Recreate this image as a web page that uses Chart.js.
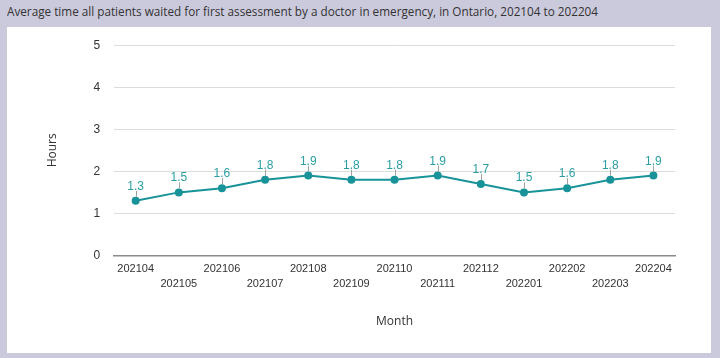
<!DOCTYPE html>
<html><head><meta charset="utf-8">
<script src="https://cdn.jsdelivr.net/npm/chart.js@4"></script>
<style>
html,body{margin:0;padding:0;}
body{width:720px;height:358px;background:#cbcadc;position:relative;overflow:hidden;font-family:"Open Sans",sans-serif;}
#title{position:absolute;left:7px;top:3px;font-size:12px;color:#333;white-space:nowrap;transform-origin:0 0;}
#panel{position:absolute;left:7px;top:27px;width:704px;height:326px;background:#fff;}
canvas{display:block;position:absolute;left:0;top:-3px;}
</style></head><body>
<div id="title">Average time all patients waited for first assessment by a doctor in emergency, in Ontario, 202104 to 202204</div>
<div id="panel"><canvas id="c" width="704" height="329"></canvas></div>
<script>
const months = ['202104','202105','202106','202107','202108','202109','202110','202111','202112','202201','202202','202203','202204'];
const hours = [1.3,1.5,1.6,1.8,1.9,1.8,1.8,1.9,1.7,1.5,1.6,1.8,1.9];
const yTicks = [0,1,2,3,4,5];

const t = document.getElementById('title');
const w = t.getBoundingClientRect().width;
t.style.transform = 'scaleX(' + (591 / w) + ')';

const labelPlugin = {
  id: 'valLabels',
  afterDatasetsDraw(chart) {
    const ctx = chart.ctx;
    const meta = chart.getDatasetMeta(0);
    ctx.save();
    meta.data.forEach((pt, i) => {
      ctx.strokeStyle = '#a0a0a0';
      ctx.lineWidth = 1;
      ctx.beginPath();
      ctx.moveTo(Math.round(pt.x) + 0.5, pt.y - 4);
      ctx.lineTo(Math.round(pt.x) + 0.5, pt.y - 10);
      ctx.stroke();
      ctx.fillStyle = '#2a9ea3';
      ctx.font = '12px "Liberation Sans", Arial, sans-serif';
      ctx.textAlign = 'center';
      ctx.textBaseline = 'alphabetic';
      ctx.fillText(hours[i].toFixed(1), pt.x, pt.y - 11);
    });
    ctx.restore();
  }
};

new Chart(document.getElementById('c'), {
  type: 'line',
  data: {
    labels: months.map((m, i) => i % 2 ? ['', m] : m),
    datasets: [{
      data: hours,
      borderColor: '#189399',
      backgroundColor: '#189399',
      borderWidth: 2,
      pointRadius: 3,
      pointHoverRadius: 3,
      tension: 0
    }]
  },
  options: {
    responsive: false,
    animation: false,
    layout: { padding: { left: 34, right: 36, top: 5, bottom: 0 } },
    plugins: { legend: { display: false }, tooltip: { enabled: false } },
    scales: {
      x: {
        offset: true,
        grid: { display: false, drawTicks: false },
        border: { display: true, color: '#8a8a8a', width: 1.5 },
        ticks: { autoSkip: false, maxRotation: 0, minRotation: 0, padding: 6, color: '#333',
                 font: { family: '"Liberation Sans", Arial, sans-serif', size: 11, lineHeight: 1.37 } },
        title: { display: true, text: 'Month', color: '#333', padding: { top: 17, bottom: 24 },
                 font: { family: '"Open Sans", sans-serif', size: 12 } }
      },
      y: {
        min: 0, max: 5,
        afterBuildTicks: (s) => { s.ticks = yTicks.map(v => ({ value: v })); },
        grid: { color: '#dcdcdc', drawTicks: false },
        border: { display: false },
        ticks: { padding: 14, color: '#333',
                 font: { family: '"Liberation Sans", Arial, sans-serif', size: 12 } },
        title: { display: true, text: 'Hours', color: '#333', padding: { bottom: 20 },
                 font: { family: '"Open Sans", sans-serif', size: 12 } },
      }
    }
  },
  plugins: [labelPlugin]
});
</script>
</body></html>
